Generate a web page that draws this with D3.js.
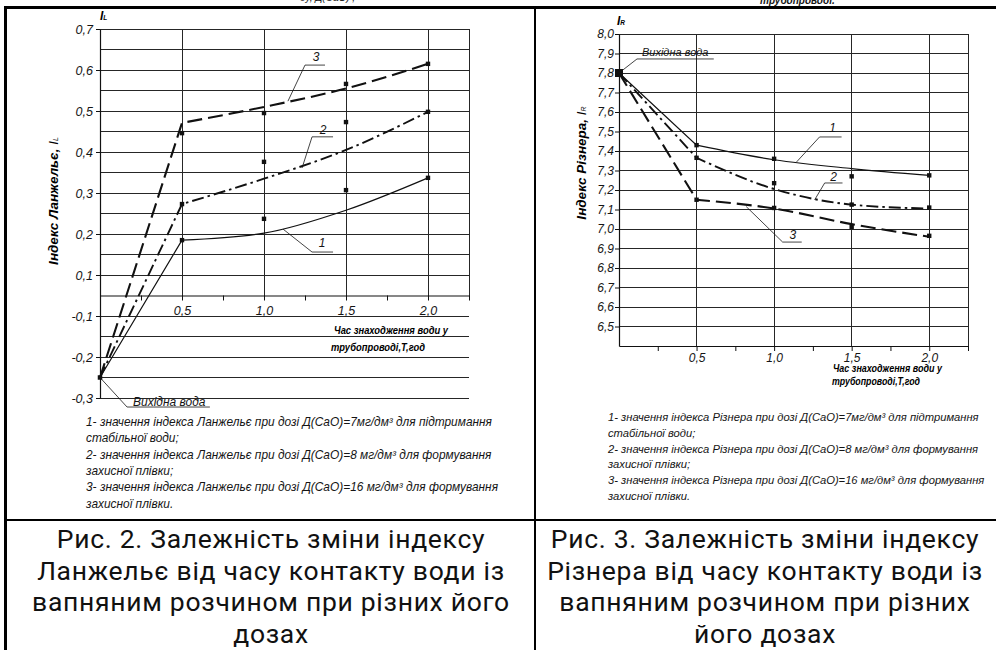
<!DOCTYPE html>
<html>
<head>
<meta charset="utf-8">
<script src="https://cdn.jsdelivr.net/npm/d3@7"></script>
<style>
body { margin: 0; background: #fff; }
svg { display: block; }
</style>
</head>
<body>
<div id="chart"></div>
<script>
//time points (hours), first one is the source water
const hours = [0, 0.5, 1.0, 1.5, 2.0];
const dotHours = [0.5, 1.0, 1.5, 2.0];
const timeTicks = [0.25, 0.5, 0.75, 1.0, 1.25, 1.5, 1.75, 2.0, 2.25];
const timeLabels = [0.5, 1.0, 1.5, 2.0];

//langelier index, fitted lines 1,2,3
const lanLine1 = [-0.25, 0.185, 0.202, 0.258, 0.337];
const lanLine2 = [-0.25, 0.273, 0.335, 0.405, 0.498];
const lanLine3 = [-0.25, 0.471, 0.51, 0.555, 0.615];
//langelier index, measured points
const lanDots1 = [0.185, 0.237, 0.307, 0.337];
const lanDots2 = [0.273, 0.376, 0.473, 0.498];
const lanDots3 = [0.446, 0.495, 0.566, 0.615];
const lanTicks = [-0.3, -0.2, -0.1, 0.1, 0.2, 0.3, 0.4, 0.5, 0.6, 0.7];
const lanGrid = [-0.3, -0.25, -0.2, -0.15, -0.1, 0.1, 0.15, 0.2, 0.25, 0.3, 0.35, 0.4, 0.45, 0.5, 0.55, 0.6, 0.65, 0.7];

//ryznar index, fitted lines 1,2,3
const rizLine1 = [7.8, 7.43, 7.355, 7.31, 7.275];
const rizLine2 = [7.8, 7.365, 7.205, 7.125, 7.105];
const rizLine3 = [7.8, 7.15, 7.105, 7.025, 6.96];
//ryznar index, measured points
const rizDots1 = [7.43, 7.36, 7.27, 7.275];
const rizDots2 = [7.365, 7.235, 7.125, 7.11];
const rizDots3 = [7.15, 7.108, 7.01, 6.965];
const rizTicks = [6.5, 6.6, 6.7, 6.8, 6.9, 7.0, 7.1, 7.2, 7.3, 7.4, 7.5, 7.6, 7.7, 7.8, 7.9, 8.0];

const lanLegend = [
  "1- значення індекса Ланжельє при дозі Д(CaO)=7мг/дм³ для підтримання",
  "стабільної води;",
  "2- значення індекса Ланжельє при дозі Д(CaO)=8 мг/дм³ для формування",
  "захисної плівки;",
  "3- значення індекса Ланжельє при дозі Д(CaO)=16 мг/дм³ для формування",
  "захисної плівки."
];
const rizLegend = [
  "1- значення індекса Різнера при дозі Д(CaO)=7мг/дм³ для підтримання",
  "стабільної води;",
  "2- значення індекса Різнера при дозі Д(CaO)=8 мг/дм³ для формування",
  "захисної плівки;",
  "3- значення індекса Різнера при дозі Д(CaO)=16 мг/дм³ для формування",
  "захисної плівки."
];
const lanCaption = [
  "Рис. 2. Залежність зміни індексу",
  "Ланжельє від часу контакту води із",
  "вапняним розчином при різних його",
  "дозах"
];
const rizCaption = [
  "Рис. 3. Залежність зміни індексу",
  "Різнера від часу контакту води із",
  "вапняним розчином при різних",
  "його дозах"
];

//line looks for curves 1,2,3
const lineStyles = [
  { dash: null, width: 1.2 },
  { dash: "12,4,2.5,4", width: 1.9 },
  { dash: "15,6", width: 2.1 }
];

const svg = d3.select("#chart").append("svg").attr("width", 996).attr("height", 650);
const ink = "#151515";
const gridInk = "#262626";
const fmt = d => d3.format(".1f")(d).replace(".", ",").replace("\u2212", "-");

//table frame round the two figures
const frame = svg.append("g").attr("stroke", "#000").attr("shape-rendering", "crispEdges");
frame.append("line").attr("x1", 4).attr("x2", 996).attr("y1", 7).attr("y2", 7).attr("stroke-width", 3);
frame.append("line").attr("x1", 5).attr("x2", 5).attr("y1", 6).attr("y2", 650).attr("stroke-width", 3);
frame.append("line").attr("x1", 535).attr("x2", 535).attr("y1", 6).attr("y2", 650).attr("stroke-width", 2);
frame.append("line").attr("x1", 5).attr("x2", 996).attr("y1", 520).attr("y2", 520).attr("stroke-width", 2);

//cut off text from the page above
svg.append("text").attr("x", 760).attr("y", 4)
  .attr("font-family", "Liberation Sans").attr("font-style", "italic").attr("font-weight", "bold")
  .attr("font-size", 10).attr("fill", ink).text("трубопроводі.");
svg.append("text").attr("x", 300).attr("y", 1)
  .attr("font-family", "Liberation Sans").attr("font-style", "italic")
  .attr("font-size", 10).attr("fill", ink).text("ду, Д(CaO) ,");

function drawPanel(p) {
  const g = svg.append("g");
  const x = p.x, y = p.y;
  const yTop = y.domain()[y.domain().length - 1];

  //horizontal grid
  g.append("g").selectAll("line").data(p.grid).join("line")
    .attr("x1", x(0)).attr("x2", x(2.25))
    .attr("y1", d => y(d)).attr("y2", d => y(d))
    .attr("stroke", gridInk).attr("stroke-width", 1).attr("shape-rendering", "crispEdges");

  //vertical grid + right border of the plot
  g.append("g").selectAll("line").data(timeLabels.concat([2.25])).join("line")
    .attr("x1", d => x(d)).attr("x2", d => x(d))
    .attr("y1", y(yTop)).attr("y2", y(p.axisAt))
    .attr("stroke", gridInk).attr("stroke-width", 1).attr("shape-rendering", "crispEdges");

  //axes
  const yAxis = d3.axisLeft(y).tickValues(p.ticks).tickSize(4).tickSizeOuter(0)
    .tickPadding(p.yPad).tickFormat(fmt);
  const xAxis = d3.axisBottom(x).tickValues(timeTicks).tickSize(5).tickSizeOuter(0)
    .tickPadding(p.xPad).tickFormat(d => timeLabels.includes(d) ? fmt(d) : "");

  const gy = g.append("g").attr("transform", `translate(${x(0)},0)`).call(yAxis);
  const gx = g.append("g").attr("transform", `translate(0,${y(p.axisAt)})`).call(xAxis);
  [gx, gy].forEach(function(a){
    a.select(".domain").attr("stroke", "#111").attr("stroke-width", 1.2);
    a.selectAll(".tick line").attr("stroke", "#111");
    a.selectAll("text").attr("font-family", "Liberation Sans").attr("font-style", "italic")
      .attr("font-size", p.tickFont).attr("fill", ink);
  });

  //fitted curves: straight rise from source water, then a smooth curve
  const smooth = d3.line().x(d => x(d[0])).y(d => y(d[1])).curve(d3.curveMonotoneX);
  p.lines.forEach(function(vals, i){
    const pts = hours.map((h, k) => [h, vals[k]]);
    const tail = smooth(pts.slice(1));
    const path = "M" + x(pts[0][0]) + "," + y(pts[0][1]) + "L" + tail.slice(1);
    g.append("path").attr("d", path).attr("fill", "none").attr("stroke", "#111")
      .attr("stroke-width", lineStyles[i].width)
      .attr("stroke-dasharray", lineStyles[i].dash);
  });

  //measured points
  p.dots.forEach(function(vals){
    g.append("g").selectAll("rect").data(dotHours.map((h, k) => [h, vals[k]])).join("rect")
      .attr("x", d => x(d[0]) - 2.2).attr("y", d => y(d[1]) - 2.2)
      .attr("width", 4.4).attr("height", 4.4).attr("fill", "#111");
  });
  //source water point
  g.append("rect")
    .attr("x", x(0) - p.startSize / 2).attr("y", y(p.lines[0][0]) - p.startSize / 2)
    .attr("width", p.startSize).attr("height", p.startSize).attr("fill", "#111");

  //leaders with curve numbers
  p.notes.forEach(function(n){
    g.append("path").attr("d", d3.line().x(d => x(d[0])).y(d => y(d[1]))(n.pts))
      .attr("fill", "none").attr("stroke", ink).attr("stroke-width", 0.8);
    g.append("text").attr("x", x(n.at[0])).attr("y", y(n.at[1]))
      .attr("text-anchor", n.anchor || "middle")
      .attr("font-family", "Liberation Sans").attr("font-style", "italic")
      .attr("font-size", n.size || 12).attr("fill", ink).text(n.label);
  });

  //small index name over the y axis
  const t = g.append("text").attr("x", x(0) + p.iDx).attr("y", p.iY)
    .attr("font-family", "Liberation Sans").attr("font-style", "italic").attr("font-weight", "bold")
    .attr("fill", "#000");
  t.append("tspan").attr("font-size", 12).text("I");
  t.append("tspan").attr("font-size", 6.5).text(p.sub);

  //y axis title
  const yt = g.append("text")
    .attr("transform", `translate(${p.titleX},${p.titleY}) rotate(-90)`)
    .attr("text-anchor", "middle")
    .attr("font-family", "Liberation Sans").attr("font-style", "italic").attr("font-weight", "bold")
    .attr("font-size", 13.5).attr("fill", "#000");
  yt.append("tspan").text(p.title + ", ");
  yt.append("tspan").attr("font-weight", "normal").text("I");
  yt.append("tspan").attr("font-weight", "normal").attr("font-size", 7).text(p.sub);

  //x axis title
  p.xTitle.forEach(function(r){
    g.append("text").attr("x", r.x).attr("y", r.y)
      .attr("textLength", r.w).attr("lengthAdjust", "spacingAndGlyphs")
      .attr("font-family", "Liberation Sans").attr("font-style", "italic").attr("font-weight", "bold")
      .attr("font-size", p.xTitleFont).attr("fill", "#000").text(r.t);
  });

  //legend under the chart
  g.append("g").selectAll("text").data(p.legend).join("text")
    .attr("x", p.legendX).attr("y", (d, i) => p.legendY + i * p.legendStep)
    .attr("font-family", "Liberation Sans").attr("font-style", "italic")
    .attr("font-size", p.legendFont).attr("fill", ink).text(d => d);

  //figure caption
  g.append("g").selectAll("text").data(p.caption).join("text")
    .attr("x", p.captionX).attr("y", (d, i) => 548 + i * 31.5)
    .attr("text-anchor", "middle").attr("letter-spacing", 0.7)
    .attr("font-family", "Roboto").attr("font-size", 26.5).attr("fill", "#111").text(d => d);
}

drawPanel({
  x: d3.scaleLinear().domain([0, 2.25]).range([100, 469]),
  //the printed axis squeezes the zero area: -0.1..0.1 takes one grid step
  y: d3.scaleLinear().domain([-0.3, -0.1, 0.1, 0.7]).range([398, 316, 275, 29]),
  axisAt: 0,
  grid: lanGrid,
  ticks: lanTicks,
  yPad: 3, xPad: 6, tickFont: 12.5,
  lines: [lanLine1, lanLine2, lanLine3],
  dots: [lanDots1, lanDots2, lanDots3],
  startSize: 4.5,
  notes: [
    { label: "1", pts: [[1.116, 0.212], [1.293, 0.156], [1.421, 0.156]], at: [1.354, 0.168] },
    { label: "2", pts: [[1.232, 0.361], [1.293, 0.437], [1.421, 0.437]], at: [1.36, 0.444] },
    { label: "3", pts: [[1.146, 0.524], [1.25, 0.612], [1.372, 0.612]], at: [1.317, 0.622] },
    { label: "Вихідна вода", pts: [[0, -0.25], [0.165, -0.322], [0.67, -0.322]], at: [0.201, -0.3195], anchor: "start", size: 12 }
  ],
  sub: "L", iDx: 0, iY: 20,
  title: "Індекс Ланжельє", titleX: 58, titleY: 201,
  xTitle: [
    { t: "Час знаходження води у", x: 334, y: 334, w: 114 },
    { t: "трубопроводі,T,год", x: 331, y: 351, w: 94 }
  ],
  xTitleFont: 11,
  legend: lanLegend, legendX: 86, legendY: 426, legendStep: 16.3, legendFont: 11.9,
  caption: lanCaption, captionX: 271
});

drawPanel({
  x: d3.scaleLinear().domain([0, 2.25]).range([619, 968]),
  y: d3.scaleLinear().domain([6.4, 8.0]).range([346, 34]),
  axisAt: 6.4,
  grid: rizTicks,
  ticks: rizTicks,
  yPad: 1, xPad: 2, tickFont: 12,
  lines: [rizLine1, rizLine2, rizLine3],
  dots: [rizDots1, rizDots2, rizDots3],
  startSize: 8,
  notes: [
    { label: "1", pts: [[1.145, 7.344], [1.293, 7.472], [1.435, 7.472]], at: [1.377, 7.497] },
    { label: "2", pts: [[1.261, 7.149], [1.326, 7.236], [1.441, 7.236]], at: [1.383, 7.246] },
    { label: "3", pts: [[0.82, 7.115], [1.055, 6.933], [1.178, 6.933]], at: [1.12, 6.949] },
    { label: "Вихідна вода", pts: [[0, 7.8], [0.116, 7.872], [0.611, 7.872]], at: [0.148, 7.887], anchor: "start", size: 11 }
  ],
  sub: "R", iDx: -2, iY: 25,
  title: "Індекс Різнера", titleX: 586, titleY: 163,
  xTitle: [
    { t: "Час знаходження води у", x: 833, y: 372, w: 109 },
    { t: "трубопроводі,T,год", x: 832, y: 385, w: 88 }
  ],
  xTitleFont: 10,
  legend: rizLegend, legendX: 608, legendY: 421, legendStep: 15.8, legendFont: 11.2,
  caption: rizCaption, captionX: 765
});
</script>
</body>
</html>
